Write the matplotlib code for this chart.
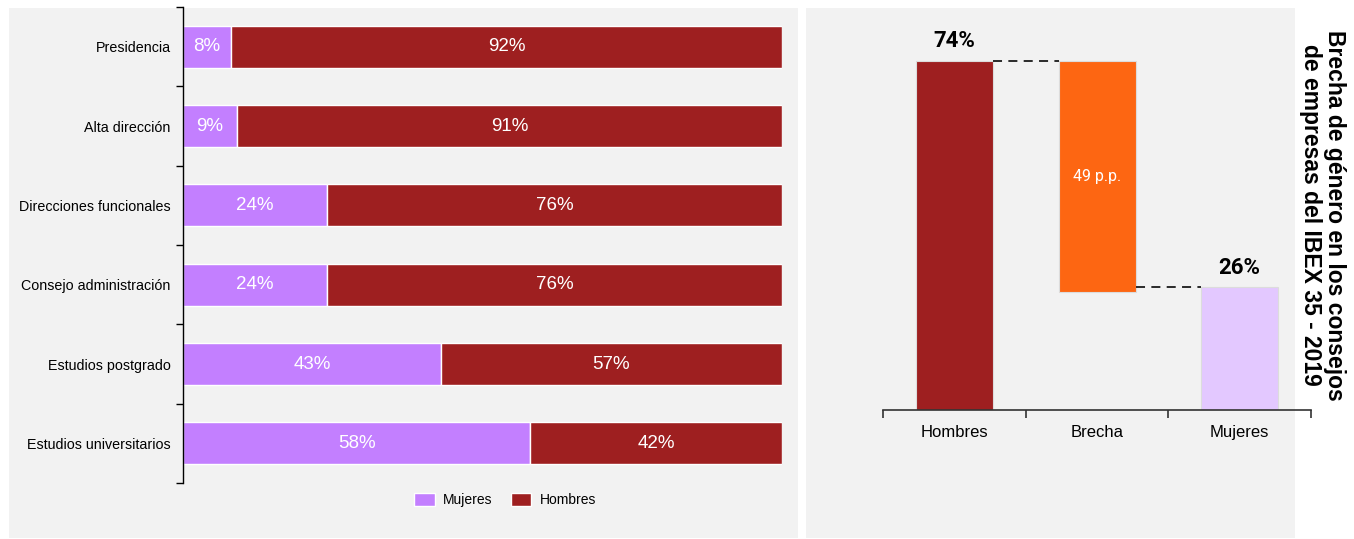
import matplotlib.pyplot as plt
from matplotlib.patches import Rectangle, Patch

# Reparto por nivel (porcentaje)
categorias = ['Presidencia', 'Alta dirección', 'Direcciones funcionales',
              'Consejo administración', 'Estudios postgrado', 'Estudios universitarios']
mujeres = [8, 9, 24, 24, 43, 58]
hombres = [92, 91, 76, 76, 57, 42]

# Consejos IBEX 35 - 2019
cascada_etiquetas = ['Hombres', 'Brecha', 'Mujeres']
cascada_hombres = 74
cascada_brecha = 49
cascada_mujeres = 26

C_MUJ = '#c37fff'
C_HOM = '#9e1f20'
C_BRE = '#fd6612'
C_MUJ_CLARO = '#e3c8ff'
FONDO = '#f2f2f2'

fig = plt.figure(figsize=(13.54, 5.39), dpi=100, facecolor='white')

# paneles grises de fondo (por debajo de los ejes)
fig.patches.append(Rectangle((0.0066, 0.002), 0.5828, 0.983, transform=fig.transFigure,
                             facecolor=FONDO, edgecolor='none', zorder=-5))
fig.patches.append(Rectangle((0.5953, 0.002), 0.3611, 0.983, transform=fig.transFigure,
                             facecolor=FONDO, edgecolor='none', zorder=-5))

# --- barras apiladas horizontales ---
ax = fig.add_axes([0.1352, 0.1039, 0.4424, 0.8831])
ax.patch.set_visible(False)
pos = list(range(len(categorias)))
ax.barh(pos, mujeres, height=0.53, color=C_MUJ, edgecolor='white', linewidth=1, label='Mujeres')
ax.barh(pos, hombres, left=mujeres, height=0.53, color=C_HOM, edgecolor='white',
        linewidth=1, label='Hombres')
for i in pos:
    ax.text(mujeres[i] / 2, i, f'{mujeres[i]}%', ha='center', va='center',
            color='white', fontsize=13.5, family='Liberation Sans')
    ax.text(mujeres[i] + hombres[i] / 2, i, f'{hombres[i]}%', ha='center', va='center',
            color='white', fontsize=13.5, family='Liberation Sans')
ax.set_xlim(0, 100)
ax.set_ylim(len(categorias) - 0.5, -0.5)
ax.set_yticks(pos)
ax.set_yticklabels(categorias, fontsize=10.3, family='Liberation Sans')
ax.tick_params(axis='y', which='major', length=0, pad=9)
ax.set_yticks([p - 0.5 for p in pos] + [len(categorias) - 0.5], minor=True)
ax.tick_params(axis='y', which='minor', length=5, width=1)
ax.set_xticks([])
for s in ['top', 'right', 'bottom']:
    ax.spines[s].set_visible(False)
ax.spines['left'].set_linewidth(1)

handles = [Patch(facecolor=C_MUJ, edgecolor='white', label='Mujeres'),
           Patch(facecolor=C_HOM, edgecolor='white', label='Hombres')]
fig.legend(handles=handles, loc='center', bbox_to_anchor=(0.373, 0.072), ncol=2,
           frameon=False, prop={'family': 'Liberation Sans', 'size': 10},
           handlelength=1.5, handleheight=1.1, columnspacing=1.3, handletextpad=0.6)

# --- cascada: hombres, brecha, mujeres ---
ax2 = fig.add_axes([0.6522, 0.2393, 0.316, 0.746])
ax2.patch.set_visible(False)
xs = [0, 1, 2]
alturas = [cascada_hombres, cascada_brecha, cascada_mujeres]
bases = [0, cascada_hombres - cascada_brecha, 0]
colores = [C_HOM, C_BRE, C_MUJ_CLARO]
ancho = 0.54
ax2.bar(xs, alturas, bottom=bases, width=ancho, color=colores, edgecolor='#dcdcdc', linewidth=0.8)
guion = (0, (5, 3.5))
ax2.plot([0 + ancho / 2, 1 - ancho / 2], [cascada_hombres] * 2, ls=guion, color='#1a1a1a', lw=1.3)
ax2.plot([1 + ancho / 2, 2 - ancho / 2], [cascada_mujeres] * 2, ls=guion, color='#1a1a1a', lw=1.3)
ax2.text(0, cascada_hombres + 1.8, f'{cascada_hombres}%', ha='center', va='bottom',
         fontsize=16, fontweight='bold', family='Roboto')
ax2.text(2, cascada_mujeres + 1.8, f'{cascada_mujeres}%', ha='center', va='bottom',
         fontsize=16, fontweight='bold', family='Roboto')
ax2.text(1, bases[1] + cascada_brecha / 2, f'{cascada_brecha} p.p.', ha='center',
         va='center', color='white', fontsize=11.5, family='Roboto')
ax2.set_xlim(-0.5, 2.5)
ax2.set_ylim(0, 85.2)
ax2.set_xticks(xs)
ax2.set_xticklabels(cascada_etiquetas, fontsize=12, family='Liberation Sans')
ax2.tick_params(axis='x', which='major', length=0, pad=11)
ax2.set_xticks([-0.5, 0.5, 1.5, 2.5], minor=True)
ax2.tick_params(axis='x', which='minor', length=6, width=1.2, color='#333333')
ax2.set_yticks([])
for s in ['top', 'right', 'left']:
    ax2.spines[s].set_visible(False)
ax2.spines['bottom'].set_linewidth(1.2)
ax2.spines['bottom'].set_color('#333333')

fig.text(0.9765, 0.601, 'Brecha de género en los consejos\nde empresas del IBEX 35 - 2019',
         rotation=-90, ha='center', va='center', fontsize=16.5, fontweight='bold',
         family='Liberation Sans', linespacing=1.05, multialignment='center')

fig.savefig('out.png', dpi=100, facecolor='white')
